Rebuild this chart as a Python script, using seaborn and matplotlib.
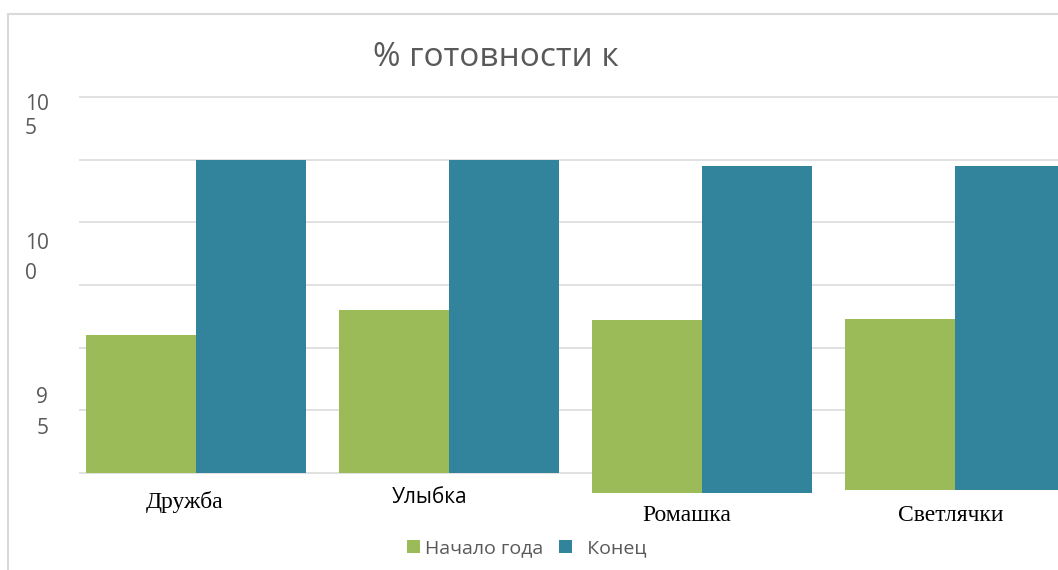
import matplotlib
matplotlib.use("Agg")
import matplotlib.pyplot as plt
from matplotlib.patches import Rectangle, Patch
from matplotlib.transforms import ScaledTranslation
import seaborn as sns
import pandas as pd

# data
groups = ["Дружба", "Улыбка", "Ромашка", "Светлячки"]
series_names = ["Начало года", "Конец"]
start_vals = [95.5, 96.5, 96.1, 96.15]
end_vals = [102.5, 102.5, 102.25, 102.25]
bar_base = [90.0, 90.0, 89.2, 89.3]
ytick_vals = [105, 100, 95]
ytick_labels = ["10\n5", "10\n0", "9\n5"]
grid_vals = [90, 92.5, 95, 97.5, 100, 102.5, 105]

colors = ["#9BBB59", "#31849B"]
grey = "#595959"

df = pd.DataFrame({
    "group": groups * 2,
    "series": [series_names[0]] * len(groups) + [series_names[1]] * len(groups),
    "value": start_vals + end_vals,
    "base": bar_base * 2,
})
df["height"] = df["value"] - df["base"]

sns.set_theme(style="white")
plt.rcParams["font.family"] = ["Open Sans", "DejaVu Sans"]

W, H = 1058, 570
fig = plt.figure(figsize=(W / 100, H / 100), dpi=100)
ax = fig.add_axes([79 / W, 1 - 495 / H, 1 - 79 / W, (495 - 90) / H])

sns.barplot(
    data=df, x="group", y="height", hue="series",
    order=groups, hue_order=series_names, palette=colors,
    width=0.87, errorbar=None, bottom=bar_base, linewidth=0,
    saturation=1, legend=False, ax=ax,
)

ax.set_xlim(-0.462, 3.407)
ax.set_ylim(89.12, 105.28)
ax.set_xlabel("")
ax.set_ylabel("")
for s in ax.spines.values():
    s.set_visible(False)

# gridlines on minor ticks, labels on major ticks
ax.yaxis.remove_overlapping_locs = False
ax.set_yticks(grid_vals, minor=True)
ax.set_yticks(ytick_vals, ytick_labels)
ax.yaxis.grid(True, which="minor", color="#D9D9D9", linewidth=1.1)
ax.yaxis.grid(False, which="major")
ax.set_axisbelow(True)
ax.tick_params(axis="both", which="both", length=0)

y_shift = [15.5, 29.5, 58]
y_space = [1.2, 1.55, 1.6]
for tick, dy, ls in zip(ax.yaxis.get_major_ticks(), y_shift, y_space):
    tick.set_pad(22)
    lab = tick.label1
    lab.set_fontsize(15)
    lab.set_color(grey)
    lab.set_multialignment("left")
    lab.set_linespacing(ls)
    lab.set_transform(lab.get_transform() + ScaledTranslation(0, -dy / 100, fig.dpi_scale_trans))

# category labels: mixed fonts and heights like the original
ax.set_xticks(range(len(groups)), groups)
x_font = ["Liberation Serif", "Open Sans", "Liberation Serif", "Liberation Serif"]
x_size = [17, 15, 17, 17]
x_pad = [5, 2, 15, 15]
x_shift = [-11, -19, -15, -4]
for tick, fam, fs, pad, dx in zip(ax.xaxis.get_major_ticks(), x_font, x_size, x_pad, x_shift):
    tick.set_pad(pad)
    lab = tick.label1
    lab.set_fontfamily(fam)
    lab.set_fontsize(fs)
    lab.set_color("black")
    lab.set_verticalalignment("center")
    lab.set_transform(lab.get_transform() + ScaledTranslation(dx / 100, 0, fig.dpi_scale_trans))

handles = [Patch(facecolor=c, edgecolor="none") for c in colors]
fig.legend(
    handles, [series_names[0], "  " + series_names[1]], loc="center",
    bbox_to_anchor=(527 / W, 1 - 548 / H),
    ncol=2, frameon=False, fontsize=14,
    handlelength=0.68, handleheight=0.68, handletextpad=0.25, columnspacing=0.8,
    labelcolor=grey,
)

fig.text(496 / W, 1 - 58 / H, "% готовности к", ha="center", va="center",
         fontsize=24, color=grey)

fig.patches.append(Rectangle((8 / W, -0.1), 1.2, 1 - 14 / H + 0.1, transform=fig.transFigure,
                             fill=False, edgecolor="#D9D9D9", linewidth=1.5))

fig.savefig("out.png", dpi=100)
